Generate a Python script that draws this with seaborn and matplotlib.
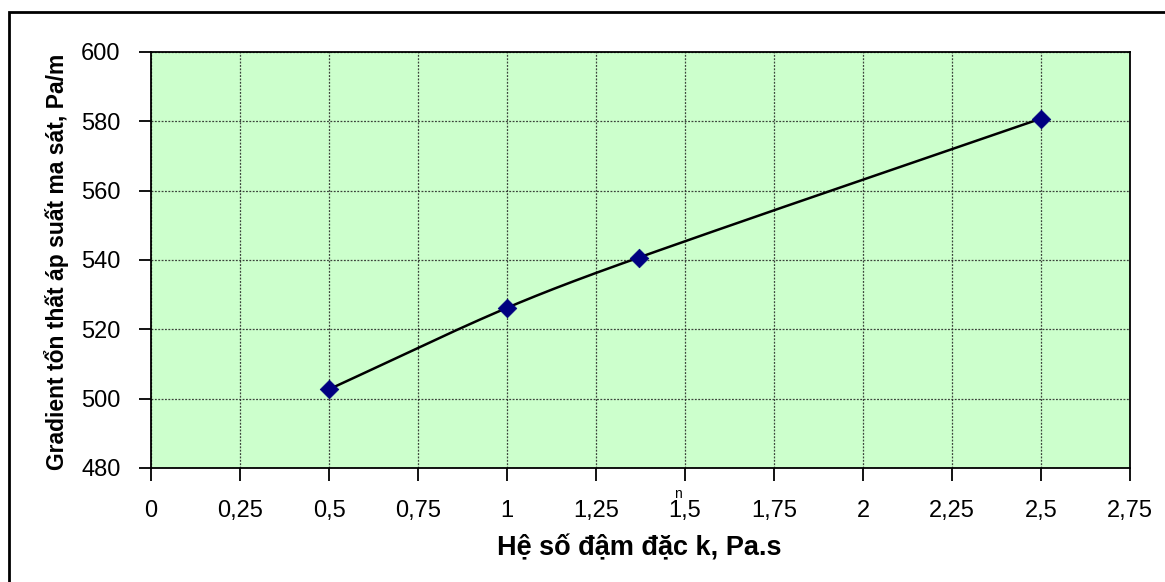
import numpy as np
import pandas as pd
import matplotlib
matplotlib.use("Agg")
import matplotlib.pyplot as plt
import seaborn as sns
from matplotlib.patches import Rectangle

# Data
k_values = [0.5, 1.0, 1.37, 2.5]
gradient_values = [502.7, 526.2, 540.7, 580.8]
x_ticks = [0, 0.25, 0.5, 0.75, 1, 1.25, 1.5, 1.75, 2, 2.25, 2.5, 2.75]
x_tick_labels = ["0", "0,25", "0,5", "0,75", "1", "1,25", "1,5", "1,75", "2", "2,25", "2,5", "2,75"]
y_ticks = [480, 500, 520, 540, 560, 580, 600]
x_label = "Hệ số đậm đặc k, Pa.s"
y_label = "Gradient tổn thất áp suất ma sát, Pa/m"

sns.set_theme(style="white")
plt.rcParams['font.family'] = ['Liberation Sans', 'DejaVu Sans']

W, H = 1165, 582
fig = plt.figure(figsize=(11.65, 5.82), dpi=100)
ax = fig.add_axes([151/W, 1-468/H, (1130-151)/W, (468-52)/H])
ax.set_facecolor("#CCFFCC")

# smooth curve (cubic Hermite through the data points, tangents by finite differences)
def hermite_curve(xs, ys, n=60):
    xs = np.asarray(xs, float); ys = np.asarray(ys, float)
    m = np.empty_like(ys)
    m[0] = (ys[1]-ys[0])/(xs[1]-xs[0])
    m[-1] = (ys[-1]-ys[-2])/(xs[-1]-xs[-2])
    for i in range(1, len(xs)-1):
        m[i] = (ys[i+1]-ys[i-1])/(xs[i+1]-xs[i-1])
    ox, oy = [], []
    for i in range(len(xs)-1):
        h = xs[i+1]-xs[i]
        t = np.linspace(0, 1, n)
        h00 = 2*t**3-3*t**2+1; h10 = t**3-2*t**2+t
        h01 = -2*t**3+3*t**2; h11 = t**3-t**2
        ox.extend(xs[i]+t*h)
        oy.extend(h00*ys[i]+h10*h*m[i]+h01*ys[i+1]+h11*h*m[i+1])
    return np.array(ox), np.array(oy)

sx, sy = hermite_curve(k_values, gradient_values)
ax.plot(sx, sy, color="black", lw=1.8, zorder=3)

df = pd.DataFrame({"k": k_values, "g": gradient_values})
sns.scatterplot(data=df, x="k", y="g", marker="D", s=90, color="#000080",
                edgecolor="#000080", linewidth=0.5, ax=ax, zorder=4)

ax.set_xlim(0, 2.75)
ax.set_ylim(480, 600)
ax.set_xticks(x_ticks)
ax.set_xticklabels(x_tick_labels)
ax.set_yticks(y_ticks)
ax.grid(True, color="#222222", linestyle=(0, (1.5, 1.2)), linewidth=0.9, alpha=0.85)
ax.set_axisbelow(True)
for s in ax.spines.values():
    s.set_visible(True)
    s.set_color("black")
    s.set_linewidth(1.3)
ax.tick_params(axis="both", which="both", direction="out", length=9, width=1.3,
               color="black", labelsize=17, labelcolor="black",
               bottom=True, left=True)
ax.tick_params(axis="x", pad=14)
ax.tick_params(axis="y", pad=13)
ax.set_xlabel(x_label, fontsize=19.5, fontweight="bold", color="black")
ax.set_ylabel(y_label, fontsize=16.5, fontweight="bold", color="black")
ax.xaxis.set_label_coords((639 - 151) / (1130 - 151), -(548 - 468) / (468 - 52))
ax.yaxis.set_label_coords(-(151 - 57) / (1130 - 151), (468 - 262) / (468 - 52))
ax.xaxis.label.set_va("center")
ax.yaxis.label.set_va("center")

# small artifact glyph near "1,5"
fig.text(678/W, 1-494/H, "n", fontsize=10, ha="center", va="center", color="black")

# figure border (left and top visible)
fig.add_artist(Rectangle((9/W, -0.1), 1.2, 1 - 12/H + 0.1, transform=fig.transFigure,
                         fill=False, edgecolor="black", linewidth=2, clip_on=False))

fig.savefig("out.png", dpi=100)
